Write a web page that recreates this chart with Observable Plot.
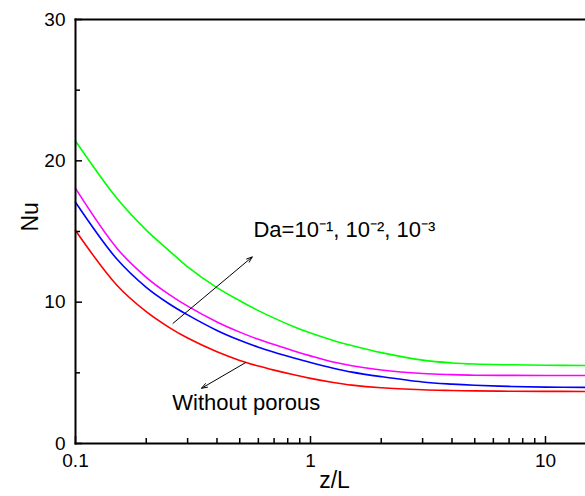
<!DOCTYPE html>
<html>
<head>
<meta charset="utf-8">
<script src="https://cdn.jsdelivr.net/npm/d3@7"></script>
<script src="https://cdn.jsdelivr.net/npm/@observablehq/plot@0.6"></script>
<style>
  html, body { margin: 0; padding: 0; background: #fff; }
  svg { font-family: "Liberation Sans", Arial, sans-serif; }
</style>
</head>
<body>
<div id="chart"></div>
<script>
// z/L sample positions
const zL = [0.1, 0.15, 0.2, 0.25, 0.3, 0.4, 0.5, 0.6, 0.7, 0.85, 1, 1.25, 1.5, 2, 3, 4, 5, 7, 10, 15];
// Nu series
const nuWithout = [15.07, 11.2, 9.33, 8.22, 7.46, 6.49, 5.88, 5.48, 5.19, 4.86, 4.61, 4.32, 4.13, 3.94, 3.80, 3.75, 3.72, 3.70, 3.69, 3.68];
const nuDa3 = [17.07, 13.05, 11.05, 9.89, 9.10, 8.0, 7.30, 6.81, 6.455, 6.05, 5.73, 5.33, 5.05, 4.73, 4.35, 4.2, 4.12, 4.04, 3.99, 3.97];
const nuDa2 = [18.05, 13.82, 11.76, 10.55, 9.72, 8.60, 7.88, 7.37, 7.0, 6.55, 6.20, 5.76, 5.50, 5.20, 4.95, 4.87, 4.83, 4.82, 4.81, 4.81];
const nuDa1 = [21.4, 17.35, 15.10, 13.65, 12.50, 11.03, 10.10, 9.40, 8.87, 8.26, 7.81, 7.29, 6.93, 6.43, 5.90, 5.70, 5.62, 5.57, 5.54, 5.52];
const seriesNames = ["Without porous", "Da=1e-3", "Da=1e-2", "Da=1e-1"];
const seriesColors = ["#ff0000", "#0000ff", "#ff00ff", "#00ff00"];

// tick values
const xMajor = [0.1, 1, 10];
const xMinor = [0.2, 0.3, 0.4, 0.5, 0.6, 0.7, 0.8, 0.9, 2, 3, 4, 5, 6, 7, 8, 9];
const yMajor = [0, 10, 20, 30];
const yMinor = [5, 15, 25];

// annotations (data coordinates)
const daLabel = "Da=10\u207B\u00B9, 10\u207B\u00B2, 10\u207B\u00B3";
const daLabelPos = [0.572, 15.1];
const daArrow = [0.26, 8.5, 0.565, 13.2];
const woLabel = "Without porous";
const woLabelPos = [0.258, 2.9];
const woArrow = [0.529, 5.72, 0.344, 3.91];

const allSeries = [nuWithout, nuDa3, nuDa2, nuDa1];
const rows = [];
allSeries.forEach((vals, si) => vals.forEach((v, i) => rows.push({z: zL[i], nu: v, s: seriesNames[si]})));

const chart = Plot.plot({
  width: 585,
  height: 496,
  marginLeft: 75,
  marginRight: 0,
  marginTop: 19,
  marginBottom: 53,
  x: {type: "log", domain: [0.1, 14.8]},
  y: {domain: [0, 30]},
  color: {domain: seriesNames, range: seriesColors},
  style: {fontFamily: "Liberation Sans, Arial, sans-serif", fontSize: "19px", color: "#000"},
  marks: [
    Plot.lineY(rows, {x: "z", y: "nu", stroke: "s", strokeWidth: 1.6, curve: "catmull-rom"}),
    // frame lines
    Plot.frame({anchor: "left", strokeWidth: 2}),
    Plot.frame({anchor: "bottom", strokeWidth: 2}),
    Plot.frame({anchor: "top", strokeWidth: 2}),
    // x axis
    Plot.axisX(xMajor, {anchor: "bottom", tickSize: -7, tickFormat: d => d === 0.1 ? "0.1" : String(d), tickPadding: 17, fontSize: 19, strokeWidth: 1.5, label: null}),
    Plot.axisX(xMinor, {anchor: "bottom", tickSize: -5, tickFormat: () => "", strokeWidth: 1.5, label: null}),
    // y axis
    Plot.axisY(yMajor, {anchor: "left", tickSize: -7, tickPadding: 17, fontSize: 19, strokeWidth: 1.5, label: null}),
    Plot.axisY(yMinor, {anchor: "left", tickSize: -5, tickFormat: () => "", strokeWidth: 1.5, label: null}),
    // axis titles
    Plot.text(["z/L"], {frameAnchor: "bottom", dx: 4, dy: 44, fontSize: 23}),
    Plot.text(["Nu"], {frameAnchor: "left", dx: -45, rotate: -90, fontSize: 23}),
    // annotations
    Plot.arrow([daArrow], {x1: d => d[0], y1: d => d[1], x2: d => d[2], y2: d => d[3], stroke: "#000", strokeWidth: 1, headLength: 9, headAngle: 40}),
    Plot.arrow([woArrow], {x1: d => d[0], y1: d => d[1], x2: d => d[2], y2: d => d[3], stroke: "#000", strokeWidth: 1, headLength: 9, headAngle: 40}),
    Plot.text([daLabel], {x: () => daLabelPos[0], y: () => daLabelPos[1], textAnchor: "start", fontSize: 22}),
    Plot.text([woLabel], {x: () => woLabelPos[0], y: () => woLabelPos[1], textAnchor: "start", fontSize: 22})
  ]
});
document.getElementById("chart").appendChild(chart);
</script>
</body>
</html>
